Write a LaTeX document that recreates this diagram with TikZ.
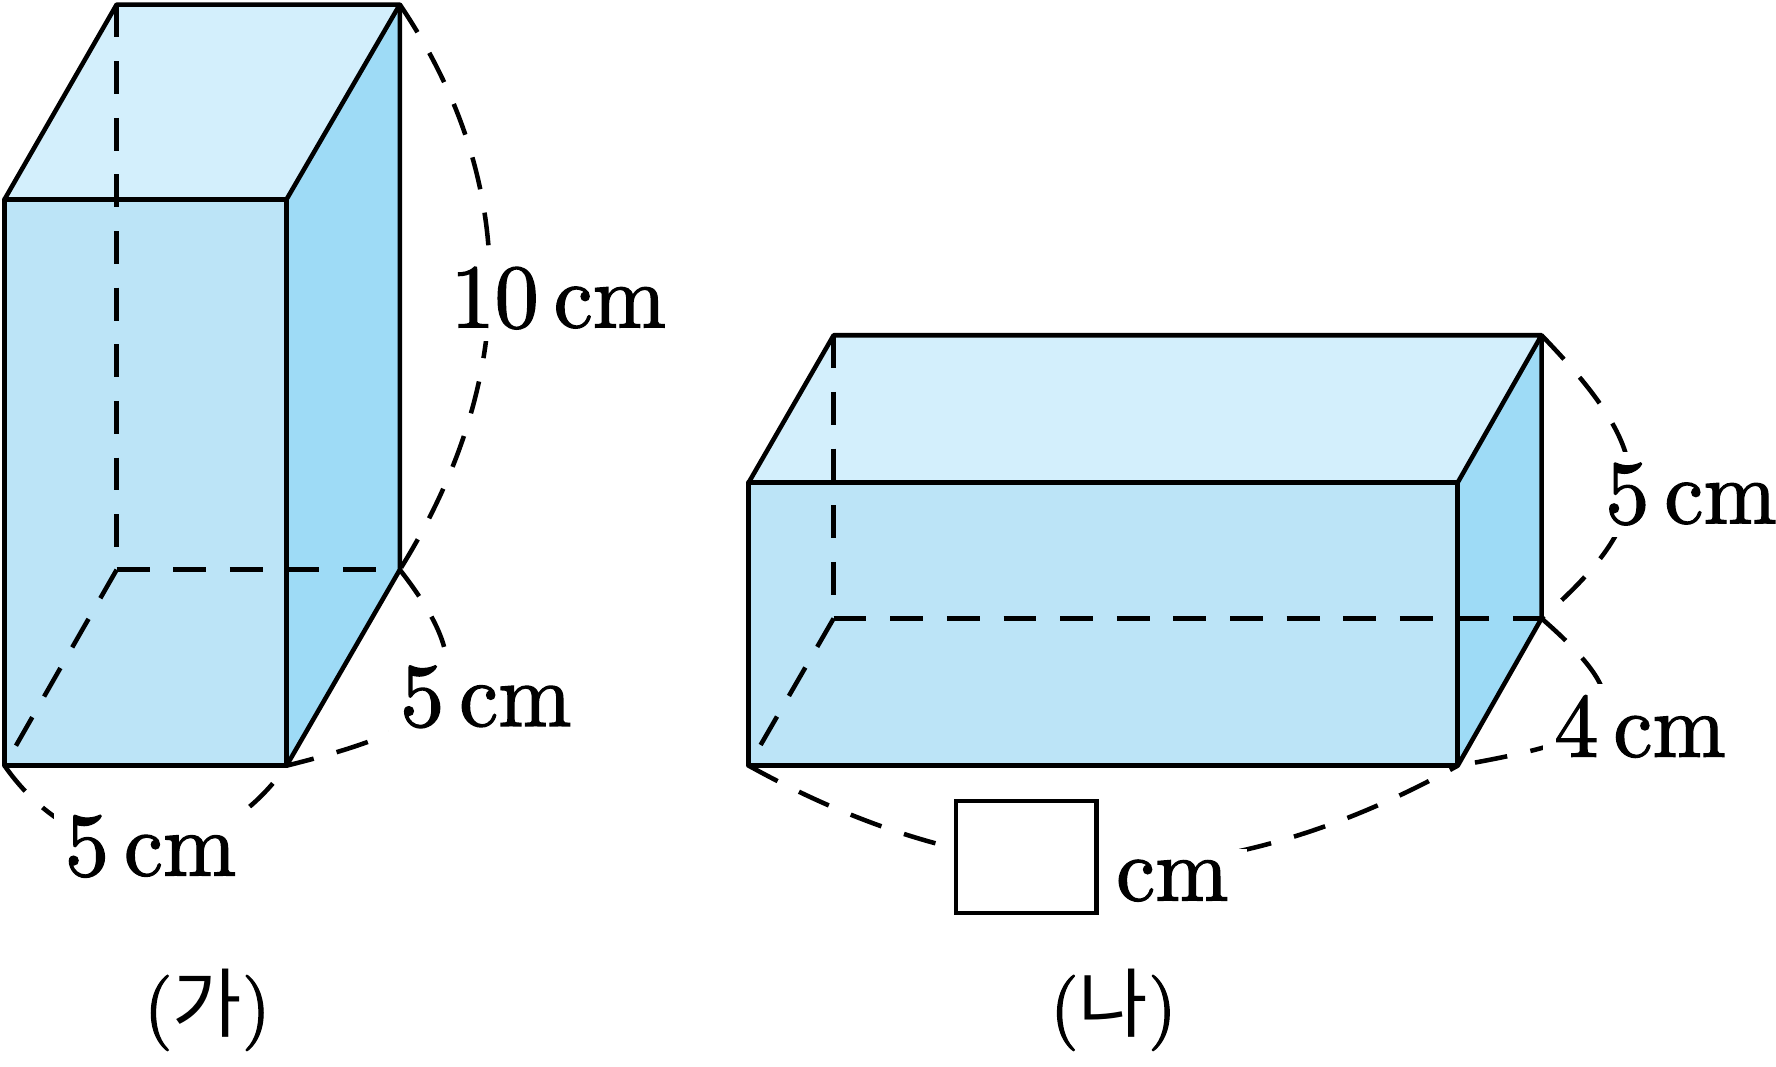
\documentclass[tikz,border=0pt]{standalone}
\usepackage{fontspec}
\setmainfont{lmroman10-regular.otf}[FakeBold=1.5,FakeStretch=0.97]
\newfontfamily\hangulfont{Noto Sans CJK KR}
\usepackage{tikz}
\definecolor{topface}{RGB}{211,239,252}
\definecolor{frontface}{RGB}{188,228,247}
\definecolor{sideface}{RGB}{158,219,246}
\tikzstyle{face}=[draw=black,line width=1.2pt,line join=round]
\tikzstyle{Hidden}=[line width=1.2pt,dash pattern=on 8.7pt off 6.3pt]
\tikzstyle{Dim}=[line width=1.2pt,dash pattern=on 8.7pt off 6.3pt]
\tikzstyle{lbl}=[fill=white,inner sep=3pt,anchor=base,font=\fontsize{24}{28}\selectfont]
\tikzstyle{Nlbl}=[inner sep=0pt,anchor=base,font=\fontsize{20}{24}\selectfont]
\tikzstyle{blank}=[draw=black,fill=white,line width=1.2pt,minimum width=37.2pt,minimum height=29.7pt,inner sep=0pt]
\newcommand{\tikzpicunit}{0.3pt}

\begin{document}
\begin{tikzpicture}[x=\tikzpicunit,y=\tikzpicunit]
    \useasboundingbox (0,0) rectangle (1568,942);

    % (ga)
    \coordinate (A1) at (4,266);
    \coordinate (A2) at (253,266);
    \coordinate (A3) at (253,766);
    \coordinate (A4) at (4,766);
    \coordinate (AA) at (103,439);
    \coordinate (AB) at (353,439);
    \coordinate (AC) at (353,938);
    \coordinate (AD) at (103,938);

    \fill[frontface] (A1) -- (A2) -- (A3) -- (A4) -- cycle;
    \fill[topface] (A4) -- (A3) -- (AC) -- (AD) -- cycle;
    \fill[sideface] (A2) -- (AB) -- (AC) -- (A3) -- cycle;
    \draw[Hidden] (AD) -- (AA);
    \draw[Hidden] (AA) -- (AB);
    \draw[Hidden] (AA) -- (A1);
    \draw[face] (A1) -- (A2) -- (A3) -- (A4) -- cycle;
    \draw[face] (A4) -- (AD) -- (AC) -- (A3);
    \draw[face] (A2) -- (AB) -- (AC);

    \draw[Dim] (AC) to[out=-56,in=58,looseness=1] (AB);
    \draw[Dim] (AB) to[out=-52,in=14,looseness=1.77] (A2);
    \draw[Dim] (A1) to[out=-55,in=-125,looseness=1.2] (A2);

    \node[lbl] (AH) at (493,653) {10\,cm};
    \node[lbl] (AW) at (429,301) {5\,cm};
    \node[lbl] (AL) at (133,169) {5\,cm};
    \node[Nlbl] (AN) at (183,31) {({\hangulfont 가})};

    % (na)
    \coordinate (B1) at (661,266);
    \coordinate (B2) at (1287,266);
    \coordinate (B3) at (1287,516);
    \coordinate (B4) at (661,516);
    \coordinate (BA) at (736,396);
    \coordinate (BB) at (1361,396);
    \coordinate (BC) at (1361,646);
    \coordinate (BD) at (736,646);

    \fill[frontface] (B1) -- (B2) -- (B3) -- (B4) -- cycle;
    \fill[topface] (B4) -- (B3) -- (BC) -- (BD) -- cycle;
    \fill[sideface] (B2) -- (BB) -- (BC) -- (B3) -- cycle;
    \draw[Hidden] (BD) -- (BA);
    \draw[Hidden] (BA) -- (BB);
    \draw[Hidden] (BA) -- (B1);
    \draw[face] (B1) -- (B2) -- (B3) -- (B4) -- cycle;
    \draw[face] (B4) -- (BD) -- (BC) -- (B3);
    \draw[face] (B2) -- (BB) -- (BC);

    \draw[Dim] (BC) to[out=-46,in=41,looseness=1.48] (BB);
    \draw[Dim] (BB) to[out=-41,in=10,looseness=2.3] (B2);
    \draw[Dim] (B1) to[out=-29,in=-151,looseness=1] (B2);

    \node[lbl] (BH) at (1493,480) {5\,cm};
    \node[lbl] (BW) at (1448,274) {4\,cm};
    \node[lbl,inner xsep=5pt] (BL) at (1035,147) {cm};
    \node[blank] (BX) at (906,185.5) {};
    \node[Nlbl] (BN) at (983,31) {({\hangulfont 나})};
\end{tikzpicture}
\end{document}
